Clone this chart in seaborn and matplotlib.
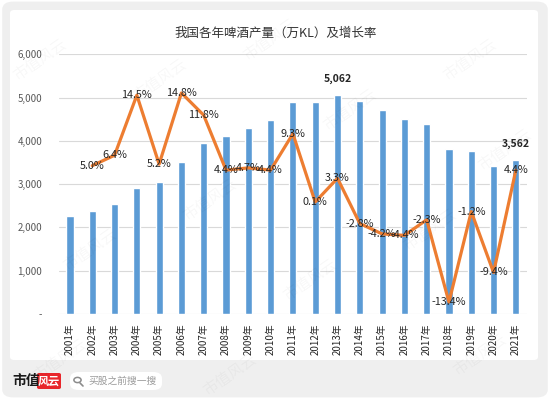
import numpy as np
import pandas as pd
import matplotlib
matplotlib.use("Agg")
import matplotlib.pyplot as plt
import seaborn as sns
from matplotlib.patches import FancyBboxPatch, Circle
from matplotlib.lines import Line2D

years = ["2001年", "2002年", "2003年", "2004年", "2005年", "2006年", "2007年",
         "2008年", "2009年", "2010年", "2011年", "2012年", "2013年", "2014年",
         "2015年", "2016年", "2017年", "2018年", "2019年", "2020年", "2021年"]
production = [2274, 2386, 2540, 2910, 3062, 3515, 3954, 4103, 4293, 4483, 4899,
              4902, 5062, 4922, 4716, 4506, 4402, 3812, 3765, 3411, 3562]
growth = [None, 5.0, 6.4, 14.5, 5.2, 14.8, 11.8, 4.4, 4.7, 4.4, 9.3, 0.1, 3.3,
          -2.8, -4.2, -4.4, -2.3, -13.4, -1.2, -9.4, 4.4]
growth_labels = [None, "5.0%", "6.4%", "14.5%", "5.2%", "14.8%", "11.8%", "4.4%",
                 "4.7%", "4.4%", "9.3%", "0.1%", "3.3%", "-2.8%", "-4.2%", "-4.4%",
                 "-2.3%", "-13.4%", "-1.2%", "-9.4%", "4.4%"]
highlight_years = ["2013年", "2021年"]
title = "我国各年啤酒产量（万KL）及增长率"

sns.set_theme(style="white")
plt.rcParams['font.family'] = ['Noto Sans CJK SC', 'DejaVu Sans']

W, H = 550, 399
fig = plt.figure(figsize=(5.5, 3.99), dpi=100, facecolor="white")

# outer grey frame and white panel
fig.patches.append(FancyBboxPatch((0.004, 0.004), 0.992, 0.992, boxstyle="round,pad=0,rounding_size=0.02",
                                  transform=fig.transFigure, facecolor="#efefef", edgecolor="none", zorder=-10))
fig.patches.append(FancyBboxPatch((10 / W, 1 - 360 / H), 528 / W, 350 / H, boxstyle="round,pad=0,rounding_size=0.008",
                                  transform=fig.transFigure, facecolor="white", edgecolor="none", zorder=-9))

# faint watermarks (pixel coords from top-left)
for (wx, wy) in [(40, 60), (160, 80), (270, 40), (350, 110), (470, 60),
                 (90, 250), (210, 200), (310, 280), (430, 230), (505, 150),
                 (60, 360), (230, 375), (480, 355)]:
    fig.text(wx / W, 1 - wy / H, "市值风云", fontsize=11, color="#000000",
             alpha=0.03, rotation=35, ha="center", va="center", zorder=20)

left, right = 58.8 / W, 527 / W
bottom, top = 1 - 314 / H, 1 - 54.4 / H
ax = fig.add_axes([left, bottom, right - left, top - bottom])
ax.set_facecolor("none")

df = pd.DataFrame({"year": years, "production": production, "growth": growth})
sns.barplot(data=df, x="year", y="production", color="#5b9bd5", width=0.32,
            saturation=1, ax=ax, zorder=3)
ax.set_ylim(0, 6000)
ax.set_yticks(range(0, 6001, 1000))
ax.set_yticklabels(["-" if v == 0 else f"{v:,}" for v in range(0, 6001, 1000)],
                   fontsize=7, color="#595959")
ax.yaxis.grid(True, color="#d9d9d9", linewidth=0.8, zorder=0)
ax.set_axisbelow(True)
ax.tick_params(axis="y", length=0, pad=12)
ax.tick_params(axis="x", length=0, pad=7)
ax.set_xticks(range(len(years)))
ax.set_xticklabels(years, rotation=90, fontsize=7, color="#262626")
ax.set_xlabel("")
ax.set_ylabel("")
for s in ax.spines.values():
    s.set_visible(False)
ax.set_xlim(-0.5, len(years) - 0.5)

for i, (y, v) in enumerate(zip(years, production)):
    if y in highlight_years:
        ax.annotate(f"{v:,}", (i, v), xytext=(0, 8), textcoords="offset points",
                    ha="center", va="bottom", fontsize=7.5, fontweight="bold", color="#262626")

ax2 = ax.twinx()
ax2.set_facecolor("none")
gdf = pd.DataFrame({"pos": [years.index(y) for y, g in zip(years, growth) if g is not None],
                    "growth": [g for g in growth if g is not None]})
sns.lineplot(data=gdf, x="pos", y="growth", color="#ed7d31", linewidth=2.3, ax=ax2, zorder=5)
ax2.set_ylim(-15, 20)
ax2.set_xlim(-0.5, len(years) - 0.5)
ax2.axis("off")
for i, (g, lab) in enumerate(zip(growth, growth_labels)):
    if g is not None:
        ax2.text(i, g, lab, ha="center", va="center", fontsize=7.8, color="#262626", zorder=6)

fig.text(276 / W, 1 - 33 / H, title, ha="center", va="center", fontsize=9, color="#333333")

# footer logo
fig.text(12 / W, 1 - 381 / H, "市值", ha="left", va="center", fontsize=10, fontweight="bold", color="#1a1a1a")
fig.patches.append(FancyBboxPatch((37 / W, 1 - 389 / H), 24 / W, 16 / H, boxstyle="round,pad=0,rounding_size=0.004",
                                  transform=fig.transFigure, facecolor="#e8262b", edgecolor="none"))
fig.text(49 / W, 1 - 381 / H, "风云", ha="center", va="center", fontsize=8, fontstyle="italic",
         color="white", fontweight="bold")
fig.patches.append(FancyBboxPatch((70 / W, 1 - 390 / H), 92 / W, 18 / H, boxstyle="round,pad=0,rounding_size=0.016",
                                  transform=fig.transFigure, facecolor="white", edgecolor="none"))
fig.patches.append(Circle((77.5 / W, 1 - 380 / H), 3.6 / W, transform=fig.transFigure,
                          facecolor="none", edgecolor="#8c8c8c", linewidth=1.1))
fig.lines.append(Line2D([80 / W, 83 / W], [1 - 383 / H, 1 - 386 / H], transform=fig.transFigure,
                        color="#8c8c8c", linewidth=1.2))
fig.text(88 / W, 1 - 381 / H, "买股之前搜一搜", ha="left", va="center", fontsize=7, color="#9a9a9a")

fig.savefig("out.png", dpi=100, facecolor="white")
